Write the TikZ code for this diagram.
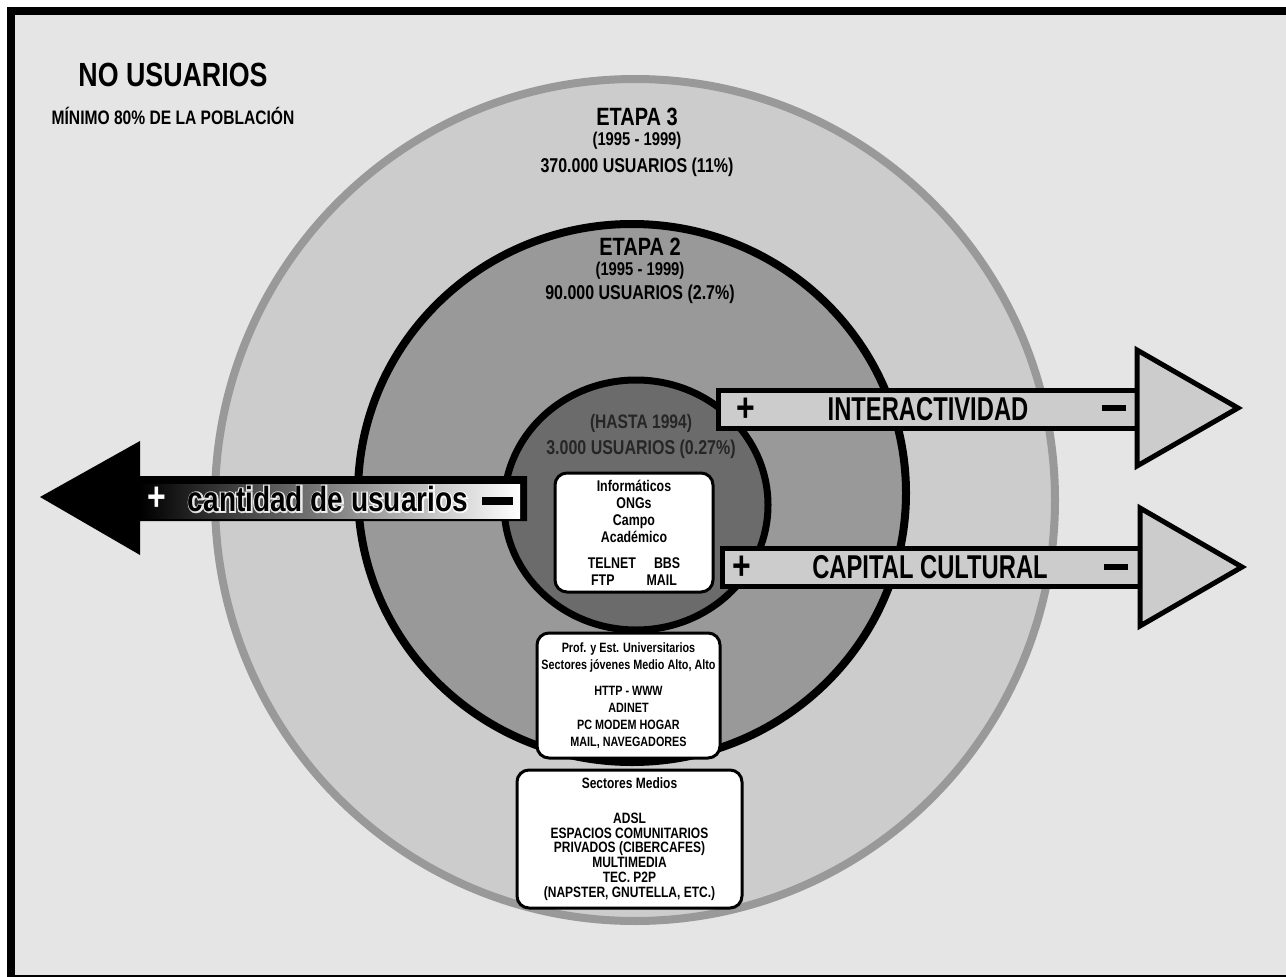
\documentclass[tikz,border=0pt]{standalone}
\usepackage{fontspec}
\setmainfont{Liberation Sans}[FakeStretch=0.8]
\newfontfamily\angosta{Liberation Sans}[FakeStretch=0.72]
\newfontfamily\brillo{Liberation Sans}[FakeStretch=0.8, FakeBold=8]
\usetikzlibrary{positioning,shapes}
\definecolor{fondo}{HTML}{E5E5E5}
\definecolor{etapatres}{HTML}{CCCCCC}
\definecolor{bordetres}{HTML}{999999}
\definecolor{etapados}{HTML}{999999}
\definecolor{etapauno}{HTML}{6B6B6B}
\definecolor{flecha}{HTML}{CCCCCC}

\begin{document}
\begin{tikzpicture}
[x=1pt, y=-1pt,
every node/.style={inner sep=0pt, font=\bfseries},
% styles for the labels of each stage
etapa/.style={font=\bfseries\fontsize{25}{28}\selectfont},
anios/.style={font=\bfseries\fontsize{18.5}{20}\selectfont},
cifra/.style={font=\bfseries\fontsize{20}{22}\selectfont},
% white boxes with the groups and technologies
caja/.style={draw, line width=3pt, fill=white, rounded corners=12pt, align=center},
% the big arrows
barra/.style={draw, line width=5pt, fill=flecha, line join=miter},
signo/.style={font=\bfseries\fontsize{40}{40}\selectfont},
rotulo/.style={font=\angosta\bfseries\fontsize{33}{33}\selectfont}
]
\useasboundingbox (0,0) rectangle (1286,977);
\clip (0,0) rectangle (1286,977);
% Background and frame
\fill[white] (0,0) rectangle (1286,977);
\fill[fondo] (11,11) rectangle (1300,979);
\draw[line width=8pt] (11,11) rectangle (1300,979);

% Draw stages
\draw[bordetres, line width=8pt, fill=etapatres] (635,500) ellipse [x radius=420, y radius=421];
\draw[line width=8pt, fill=etapados] (632,493) ellipse [x radius=274, y radius=269];
\draw[line width=7pt, fill=etapauno] (636,505) ellipse [x radius=132, y radius=125];

\node[font=\bfseries\fontsize{33.5}{36}\selectfont] (nousuarios) at (173,75) {NO USUARIOS};
\node[font=\bfseries\fontsize{19.5}{21}\selectfont] (minimo) at (173,116) {MÍNIMO 80\% DE LA POBLACIÓN};

\node[etapa] (etapatres) at (637,117) {ETAPA 3};
\node[anios, below=6pt of etapatres] (aniostres) {(1995 - 1999)};
\node[cifra, below=8pt of aniostres] (usuariostres) {370.000 USUARIOS (11\%)};

\node[etapa] (etapados) at (640,247) {ETAPA 2};
\node[anios, below=6pt of etapados] (aniosdos) {(1995 - 1999)};
\node[cifra, below=5pt of aniosdos] (usuariosdos) {90.000 USUARIOS (2.7\%)};

\node[cifra, font=\bfseries\fontsize{19.5}{21}\selectfont, black!85] (hasta) at (641,423) {(HASTA 1994)};
\node[cifra, black!85, below=8pt of hasta] (usuariosuno) {3.000 USUARIOS (0.27\%)};

% Draw boxes
\node[caja, minimum width=158pt, minimum height=119pt,
  font=\bfseries\fontsize{15.5}{17}\selectfont] (cajauno) at (634,532.5)
  {Informáticos\\ONGs\\Campo\\Académico\\[9pt]
   TELNET\hspace{18pt}BBS\\FTP\hspace{32pt}MAIL};
\node[caja, minimum width=183pt, minimum height=125pt,
  font=\bfseries\fontsize{13.5}{17}\selectfont] (cajados) at (628.5,695.5)
  {Prof. y Est. Universitarios\\Sectores jóvenes Medio Alto, Alto\\[9pt]
   HTTP - WWW\\ADINET\\PC MODEM HOGAR\\MAIL, NAVEGADORES};
\node[caja, minimum width=225pt, minimum height=138pt,
  font=\bfseries\fontsize{15}{14.8}\selectfont] (cajatres) at (629.5,839)
  {Sectores Medios\\[20pt]
   ADSL\\ESPACIOS COMUNITARIOS\\PRIVADOS (CIBERCAFES)\\MULTIMEDIA\\TEC. P2P\\(NAPSTER, GNUTELLA, ETC.)};

% Draw arrows
\fill (40,497) -- (140,441) -- (140,476) -- (527,476) -- (527,521) -- (140,521) -- (140,555) -- cycle;
\shade[left color=black, right color=white] (140,484) rectangle (520,518);
\node[font=\brillo\bfseries\fontsize{35}{36}\selectfont, white, opacity=0.85] (halo) at (328,499) {cantidad de usuarios};
\node[font=\bfseries\fontsize{35}{36}\selectfont] (cantidad) at (halo) {cantidad de usuarios};
\node[signo, white] (masizq) at (157,499) {+};
\node (menosizq) at (497,501) {\rule{31pt}{8pt}};

\draw[barra] (718,390) rectangle (1137,428);
\draw[barra] (1137,350) -- (1238,408) -- (1137,466) -- cycle;
\node[rotulo] (interac) at (928,409) {INTERACTIVIDAD};
\node[signo] (masint) at (746,410) {+};
\node (menosint) at (1114,408) {\rule{24pt}{6pt}};

\draw[barra] (722,548) rectangle (1140,586);
\draw[barra] (1140,508) -- (1242,567) -- (1140,626) -- cycle;
\node[rotulo] (capital) at (930,567) {CAPITAL CULTURAL};
\node[signo] (mascap) at (742,568) {+};
\node (menoscap) at (1116,567) {\rule{24pt}{6pt}};
\end{tikzpicture}
\end{document}
